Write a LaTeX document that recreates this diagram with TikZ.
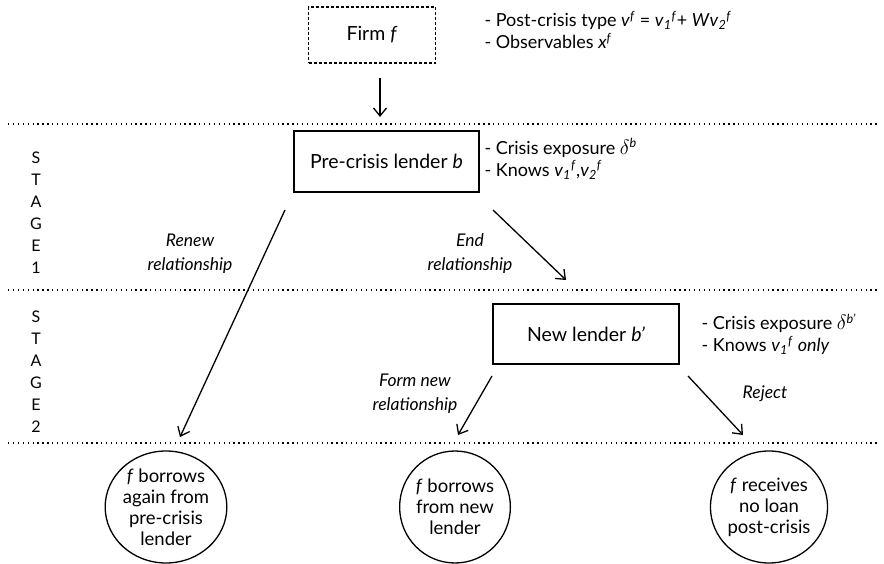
\documentclass[tikz,border=0pt]{standalone}
\usepackage{fontspec}
\setmainfont{Lato}
\usetikzlibrary{shapes.geometric,arrows.meta}

\newcommand{\iv}{\textit{v}}
\newcommand{\sub}[1]{\textsubscript{\textit{#1}}}
\newcommand{\sps}[1]{\textsuperscript{\textit{#1}}}
\newcommand{\dlt}{{\fontsize{21}{22}\selectfont$\delta$}}

\tikzset{
  lenderbox/.style={draw, line width=1.4pt, minimum width=185pt, minimum height=61pt, font=\fontsize{19.5}{22}\selectfont},
  outcome/.style={draw, ellipse, line width=1.3pt, minimum width=108pt, minimum height=112pt, inner sep=0pt, align=center, font=\fontsize{18.5}{21}\selectfont},
  note/.style={anchor=west, align=left, font=\fontsize{18}{22}\selectfont},
  choice/.style={align=center, font=\fontsize{17.5}{24}\selectfont\itshape},
  stagelabel/.style={align=center, font=\fontsize{16}{22}\selectfont},
  move/.style={line width=1.3pt, -{Straight Barb[length=8pt,width=13pt,line width=1.3pt]}},
  divider/.style={line width=1.4pt, dash pattern=on 1.3pt off 3.6pt},
}

\begin{document}
\begin{tikzpicture}[x=1pt, y=-1pt]
\useasboundingbox (0,0) rectangle (884,564);
% stage dividers
\draw [divider] (8,124) -- (878,124);
\draw [divider] (8,290) -- (878,290);
\draw [divider] (8,443) -- (878,443);
\node [stagelabel] (stageone) at (36,213) {S\\T\\A\\G\\E\\1};
\node [stagelabel] (stagetwo) at (36,372) {S\\T\\A\\G\\E\\2};
% the firm
\node [lenderbox, line width=1.1pt, dash pattern=on 3pt off 2pt, minimum width=127pt, minimum height=56pt] (firm) at (372,35) {Firm \textit{f}};
\node [note] (firmnote) at (481,30) {- Post-crisis type \iv\sps{f} = \iv\sub{1}\sps{f}+ \textit{W}\iv\sub{2}\sps{f}\\- Observables \textit{x}\sps{f}};
% stage 1
\node [lenderbox] (oldlender) at (386.5,161.5) {Pre-crisis lender \textit{b}};
\node [note] (oldnote) at (481,159) {- Crisis exposure \dlt\sps{b}\\- Knows \iv\sub{1}\sps{f},\iv\sub{2}\sps{f}};
\node [choice] (renew) at (190,254) {Renew\\relationship};
\node [choice] (endrel) at (470,254) {End\\relationship};
% stage 2
\node [lenderbox, minimum width=186pt, minimum height=60pt] (newlender) at (586,334) {New lender \textit{b'}};
\node [note] (newnote) at (698,334) {- Crisis exposure \dlt\sps{b'}\\- Knows \iv\sub{1}\sps{f} \textit{only}};
\node [choice] (formnew) at (415,394) {Form new\\relationship};
\node [choice] (reject) at (765,394) {Reject};
% outcomes
\node [outcome] (again) at (166,507) {\textit{f} borrows\\again from\\pre-crisis\\lender};
\node [outcome] (switch) at (455,507) {\textit{f} borrows\\from new\\lender};
\node [outcome] (noloan) at (769,507) {\textit{f} receives\\no loan\\post-crisis};
% arrow ends
\coordinate (firmout) at (380,78);
\coordinate (oldin) at (380,117);
\coordinate (renewout) at (285,210);
\coordinate (againin) at (180,437);
\coordinate (endout) at (493,210);
\coordinate (newin) at (566,280);
\coordinate (formout) at (492,376);
\coordinate (switchin) at (458,435);
\coordinate (rejectout) at (688,376);
\coordinate (noloanin) at (743,435);
\draw [move] (firmout) -- (oldin);
\draw [move] (renewout) -- (againin);
\draw [move] (endout) -- (newin);
\draw [move] (formout) -- (switchin);
\draw [move] (rejectout) -- (noloanin);
\end{tikzpicture}
\end{document}
